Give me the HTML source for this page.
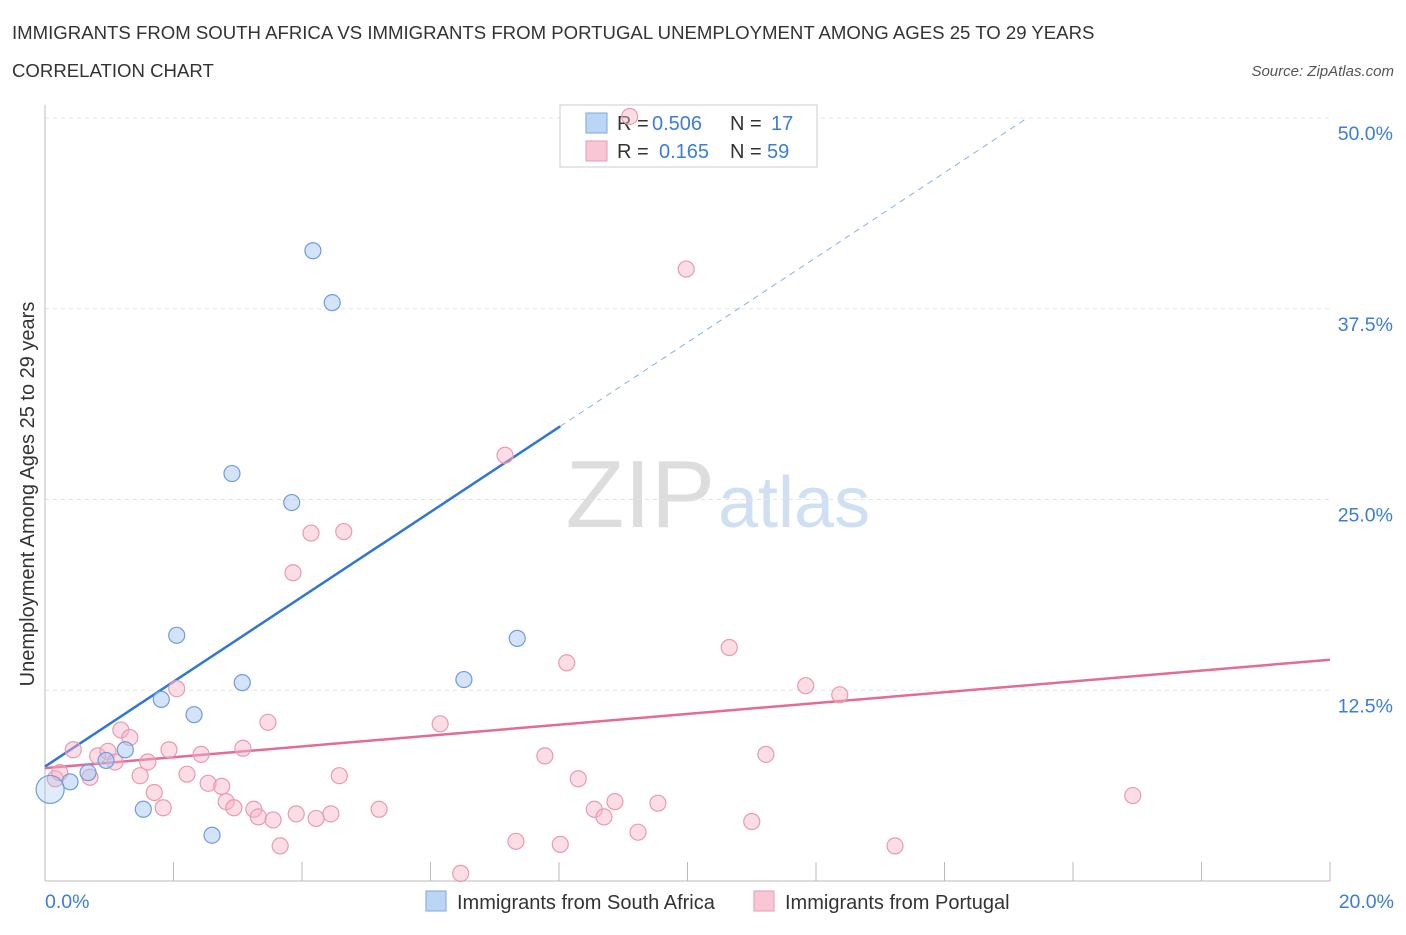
<!DOCTYPE html>
<html><head><meta charset="utf-8"><style>
body{margin:0;background:#fff;font-family:"Liberation Sans",sans-serif;}
svg text{font-family:"Liberation Sans",sans-serif;}
</style></head><body>
<svg id="chart" width="1406" height="930" xmlns="http://www.w3.org/2000/svg">
<text x="12" y="39" font-size="18.6" fill="#333">IMMIGRANTS FROM SOUTH AFRICA VS IMMIGRANTS FROM PORTUGAL UNEMPLOYMENT AMONG AGES 25 TO 29 YEARS</text>
<text x="12" y="77" font-size="18.6" fill="#333">CORRELATION CHART</text>
<text x="1394" y="76" font-size="15" fill="#555" text-anchor="end" font-style="italic">Source: ZipAtlas.com</text>
<text x="715" y="527" font-size="96" text-anchor="end" fill="#ddd" font-family="Liberation Serif,serif">ZIP</text>
<text x="718" y="527" font-size="72" fill="#cfe0f3">atlas</text>
<g id="grid"></g><g id="axes"></g>
<g>
<rect x="560" y="105" width="257" height="62" fill="#fff" stroke="#ccc"/>
<rect x="586" y="113" width="21" height="20" fill="#bcd5f5" stroke="#7aa7e0"/>
<rect x="586" y="141" width="21" height="20" fill="#f8c6d5" stroke="#e99ab2"/>
<text x="617" y="130" font-size="20" fill="#333">R =</text><text x="652" y="130" font-size="20" fill="#3b7dd8">0.506</text>
<text x="730" y="130" font-size="20" fill="#333">N =</text><text x="771" y="130" font-size="20" fill="#3b7dd8">17</text>
<text x="617" y="158" font-size="20" fill="#333">R =</text><text x="659" y="158" font-size="20" fill="#3b7dd8">0.165</text>
<text x="730" y="158" font-size="20" fill="#333">N =</text><text x="767" y="158" font-size="20" fill="#3b7dd8">59</text>
</g>
<g id="trends"></g><g id="pts"></g>
<text transform="translate(34,494) rotate(-90)" font-size="20" fill="#333" text-anchor="middle">Unemployment Among Ages 25 to 29 years</text>
<text x="45" y="908" font-size="19.5" fill="#3b7dd8">0.0%</text>
<text x="1394" y="908" font-size="19.5" fill="#3b7dd8" text-anchor="end">20.0%</text>
<g>
<rect x="426" y="891" width="20" height="20" fill="#bcd5f5" stroke="#7aa7e0"/>
<text x="457" y="909" font-size="20" fill="#333">Immigrants from South Africa</text>
<rect x="754" y="891" width="20" height="20" fill="#f8c6d5" stroke="#e99ab2"/>
<text x="785" y="909" font-size="20" fill="#333">Immigrants from Portugal</text>
</g>
</svg>
<script>
const blueX=[4.17,4.47,2.91,3.84,2.05,7.35,3.07,6.52,1.81,2.32,1.25,0.95,0.67,0.39,1.53,2.60,0.08];
const blueY=[41.3,37.9,26.7,24.8,16.1,15.9,13.0,13.2,11.9,10.9,8.6,7.9,7.1,6.5,4.7,3.0,6.0];
const pinkX=[9.1,9.98,7.16,4.14,4.65,3.86,8.12,10.65,11.84,12.37,2.05,3.47,6.15,1.18,1.32,0.44,0.82,0.98,1.09,1.60,1.93,2.43,3.08,7.78,11.22,0.16,0.23,0.70,1.48,2.21,4.58,8.30,2.54,2.75,1.70,2.82,2.94,1.84,3.25,3.32,3.55,3.91,4.22,4.45,5.20,8.55,8.70,8.87,9.54,9.23,11.00,7.33,8.02,3.66,6.47,13.23,16.93];
const pinkY=[50.1,40.1,27.9,22.8,22.9,20.2,14.3,15.3,12.8,12.2,12.6,10.4,10.3,9.9,9.4,8.6,8.2,8.5,7.8,7.8,8.6,8.3,8.7,8.2,8.3,6.7,7.1,6.8,6.9,7.0,6.9,6.7,6.4,6.2,5.8,5.2,4.8,4.8,4.7,4.2,4.0,4.4,4.1,4.4,4.7,4.7,4.2,5.2,5.1,3.2,3.9,2.6,2.4,2.3,0.5,2.3,5.6];
const yTicks=[12.5,25,37.5,50];
const yTickLabels=["12.5%","25.0%","37.5%","50.0%"];
const xTicks=[0,2,4,6,8,10,12,14,16,18,20];
const blueTrend=[7.5,2.78];
const pinkTrend=[7.4,0.355];
const sx=v=>45+v/20*1285, sy=v=>881-v/12.5*190.75;
const NS="http://www.w3.org/2000/svg";
function mk(tag,attrs,parent){const e=document.createElementNS(NS,tag);for(const k in attrs)e.setAttribute(k,attrs[k]);document.getElementById(parent).appendChild(e);return e;}
yTicks.forEach((t,i)=>{
 const l=mk('line',{x1:45,x2:1330,y1:sy(t),y2:sy(t),stroke:'#e3e3e3','stroke-dasharray':'4,4'},'grid');
 
 
 const tx=mk('text',{x:1393,y:sy(t)+22,'font-size':19.5,fill:'#3b7dd8','text-anchor':'end'},'grid');
 tx.textContent=yTickLabels[i];
 
 
});
const ax=mk('line',{x1:45,x2:1330,y1:881,y2:881,stroke:'#bbb'},'axes');


const ay=mk('line',{x1:45,x2:45,y1:105,y2:881,stroke:'#bbb'},'axes');


xTicks.forEach(t=>{const l=mk('line',{x1:sx(t),x2:sx(t),y1:862,y2:881,stroke:'#bbb'},'axes');
 
 });
const bEnd=(50-blueTrend[0])/blueTrend[1];
let t1=mk('line',{x1:sx(0),y1:sy(blueTrend[0]),x2:sx(8.02),y2:sy(blueTrend[0]+blueTrend[1]*8.02),stroke:'#2f76d6','stroke-width':2.5},'trends');


let t2=mk('line',{x1:sx(8.02),y1:sy(blueTrend[0]+blueTrend[1]*8.02),x2:sx(bEnd),y2:sy(50),stroke:'#8ab0e3','stroke-width':1,'stroke-dasharray':'6,5'},'trends');


let t3=mk('line',{x1:sx(0),y1:sy(pinkTrend[0]),x2:sx(20),y2:sy(pinkTrend[0]+pinkTrend[1]*20),stroke:'#e46b95','stroke-width':2.5},'trends');


pinkX.forEach((x,i)=>{const c=mk('circle',{cx:sx(x),cy:sy(pinkY[i]),r:8,fill:'rgba(246,180,200,0.45)',stroke:'#e99ab2','stroke-width':1.2},'pts');
 
 });
blueX.forEach((x,i)=>{const c=mk('circle',{cx:sx(x),cy:sy(blueY[i]),r:i==16?14:8,fill:i==16?'rgba(170,200,240,0.35)':'rgba(170,200,240,0.5)',stroke:'#6d9de0','stroke-width':1.2},'pts');
 
 });
</script>
</body></html>
